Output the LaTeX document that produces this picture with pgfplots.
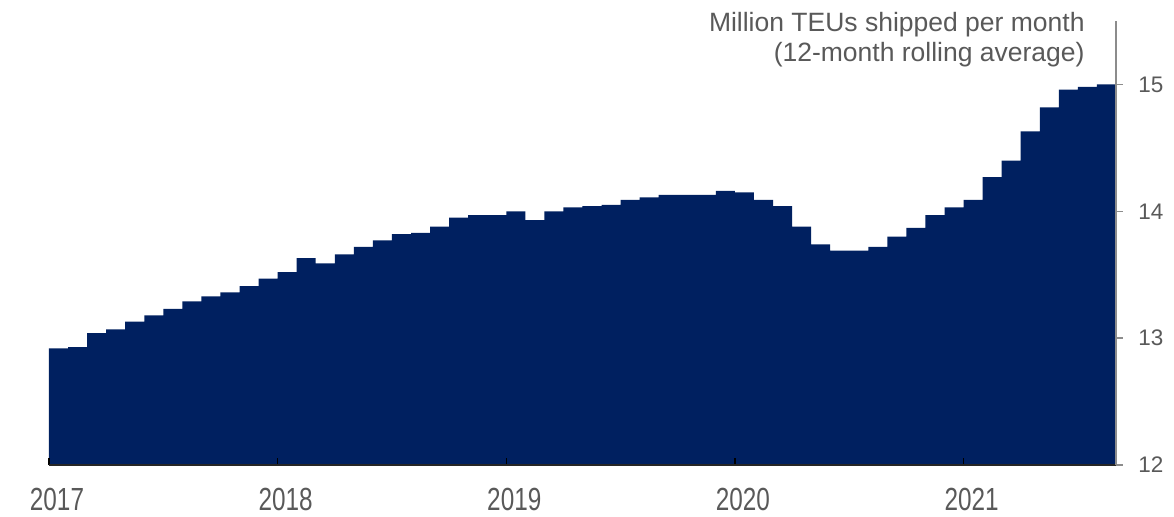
\documentclass[border=0pt]{standalone}
\usepackage{fontspec}
\setmainfont{Liberation Sans}
\usepackage{graphicx}
\usepackage{pgfplots}
\pgfplotsset{compat=1.18}

\definecolor{navy}{RGB}{0,32,96}
\definecolor{txtgray}{RGB}{89,89,89}
\definecolor{axgray}{RGB}{140,140,140}

% year labels are set narrow in the original
\newcommand{\yr}[1]{\scalebox{0.76}[1]{#1}}

\begin{document}
\begin{tikzpicture}
\begin{axis}[
    scale only axis,
    width=533.5pt, height=222pt,
    xmin=0, xmax=56, ymin=12, ymax=15.5,
    axis x line*=bottom, axis y line*=right,
    axis on top,
    x axis line style={black!85, line width=1pt},
    y axis line style={axgray, line width=0.75pt},
    tick align=inside,
    major tick length=3.5pt,
    xtick={0,12,24,36,48},
    xticklabels={\yr{2017},\yr{2018},\yr{2019},\yr{2020},\yr{2021}},
    ytick={12,13,14,15},
    /pgf/number format/assume math mode=true,
    x tick style={black, line width=0.6pt},
    y tick style={axgray, line width=0.75pt, xshift=3.5pt},
    xticklabel style={anchor=base, inner sep=0pt, yshift=-22.5pt, xshift=4pt,
        font=\fontsize{16}{19}\selectfont, text=txtgray},
    yticklabel style={anchor=west, inner sep=0pt, xshift=11pt,
        font=\fontsize{11.25}{13}\selectfont, text=txtgray},
  ]
  % monthly values, Jan 2017 = 0 ... Aug 2021 = 55
  \addplot[const plot, fill=navy, draw=none] coordinates {
    (0,12.92) (1,12.93) (2,13.04) (3,13.07) (4,13.13) (5,13.18)
    (6,13.23) (7,13.29) (8,13.33) (9,13.36) (10,13.41) (11,13.47)
    (12,13.52) (13,13.63) (14,13.59) (15,13.66) (16,13.72) (17,13.77)
    (18,13.82) (19,13.83) (20,13.88) (21,13.95) (22,13.97) (23,13.97)
    (24,14.00) (25,13.93) (26,14.00) (27,14.03) (28,14.04) (29,14.05)
    (30,14.09) (31,14.11) (32,14.13) (33,14.13) (34,14.13) (35,14.16)
    (36,14.15) (37,14.09) (38,14.04) (39,13.88) (40,13.74) (41,13.69)
    (42,13.69) (43,13.72) (44,13.80) (45,13.87) (46,13.97) (47,14.03)
    (48,14.09) (49,14.27) (50,14.40) (51,14.63) (52,14.82) (53,14.96)
    (54,14.98) (55,15.00) (56,15.00)
  } \closedcycle;
  \coordinate (O) at (rel axis cs:0,0);
  \coordinate (T) at (rel axis cs:1,1);
\end{axis}
\node[anchor=base east, inner sep=0pt, text=txtgray, font=\fontsize{13.25}{15}\selectfont]
  at ([shift={(-15.5pt,-5pt)}]T) {Million TEUs shipped per month};
\node[anchor=base east, inner sep=0pt, text=txtgray, font=\fontsize{13.25}{15}\selectfont]
  at ([shift={(-15.5pt,-20pt)}]T) {(12-month rolling average)};
\path ([shift={(-24.5pt,-25.5pt)}]O) rectangle ++(587pt,258pt);
\end{tikzpicture}
\end{document}
